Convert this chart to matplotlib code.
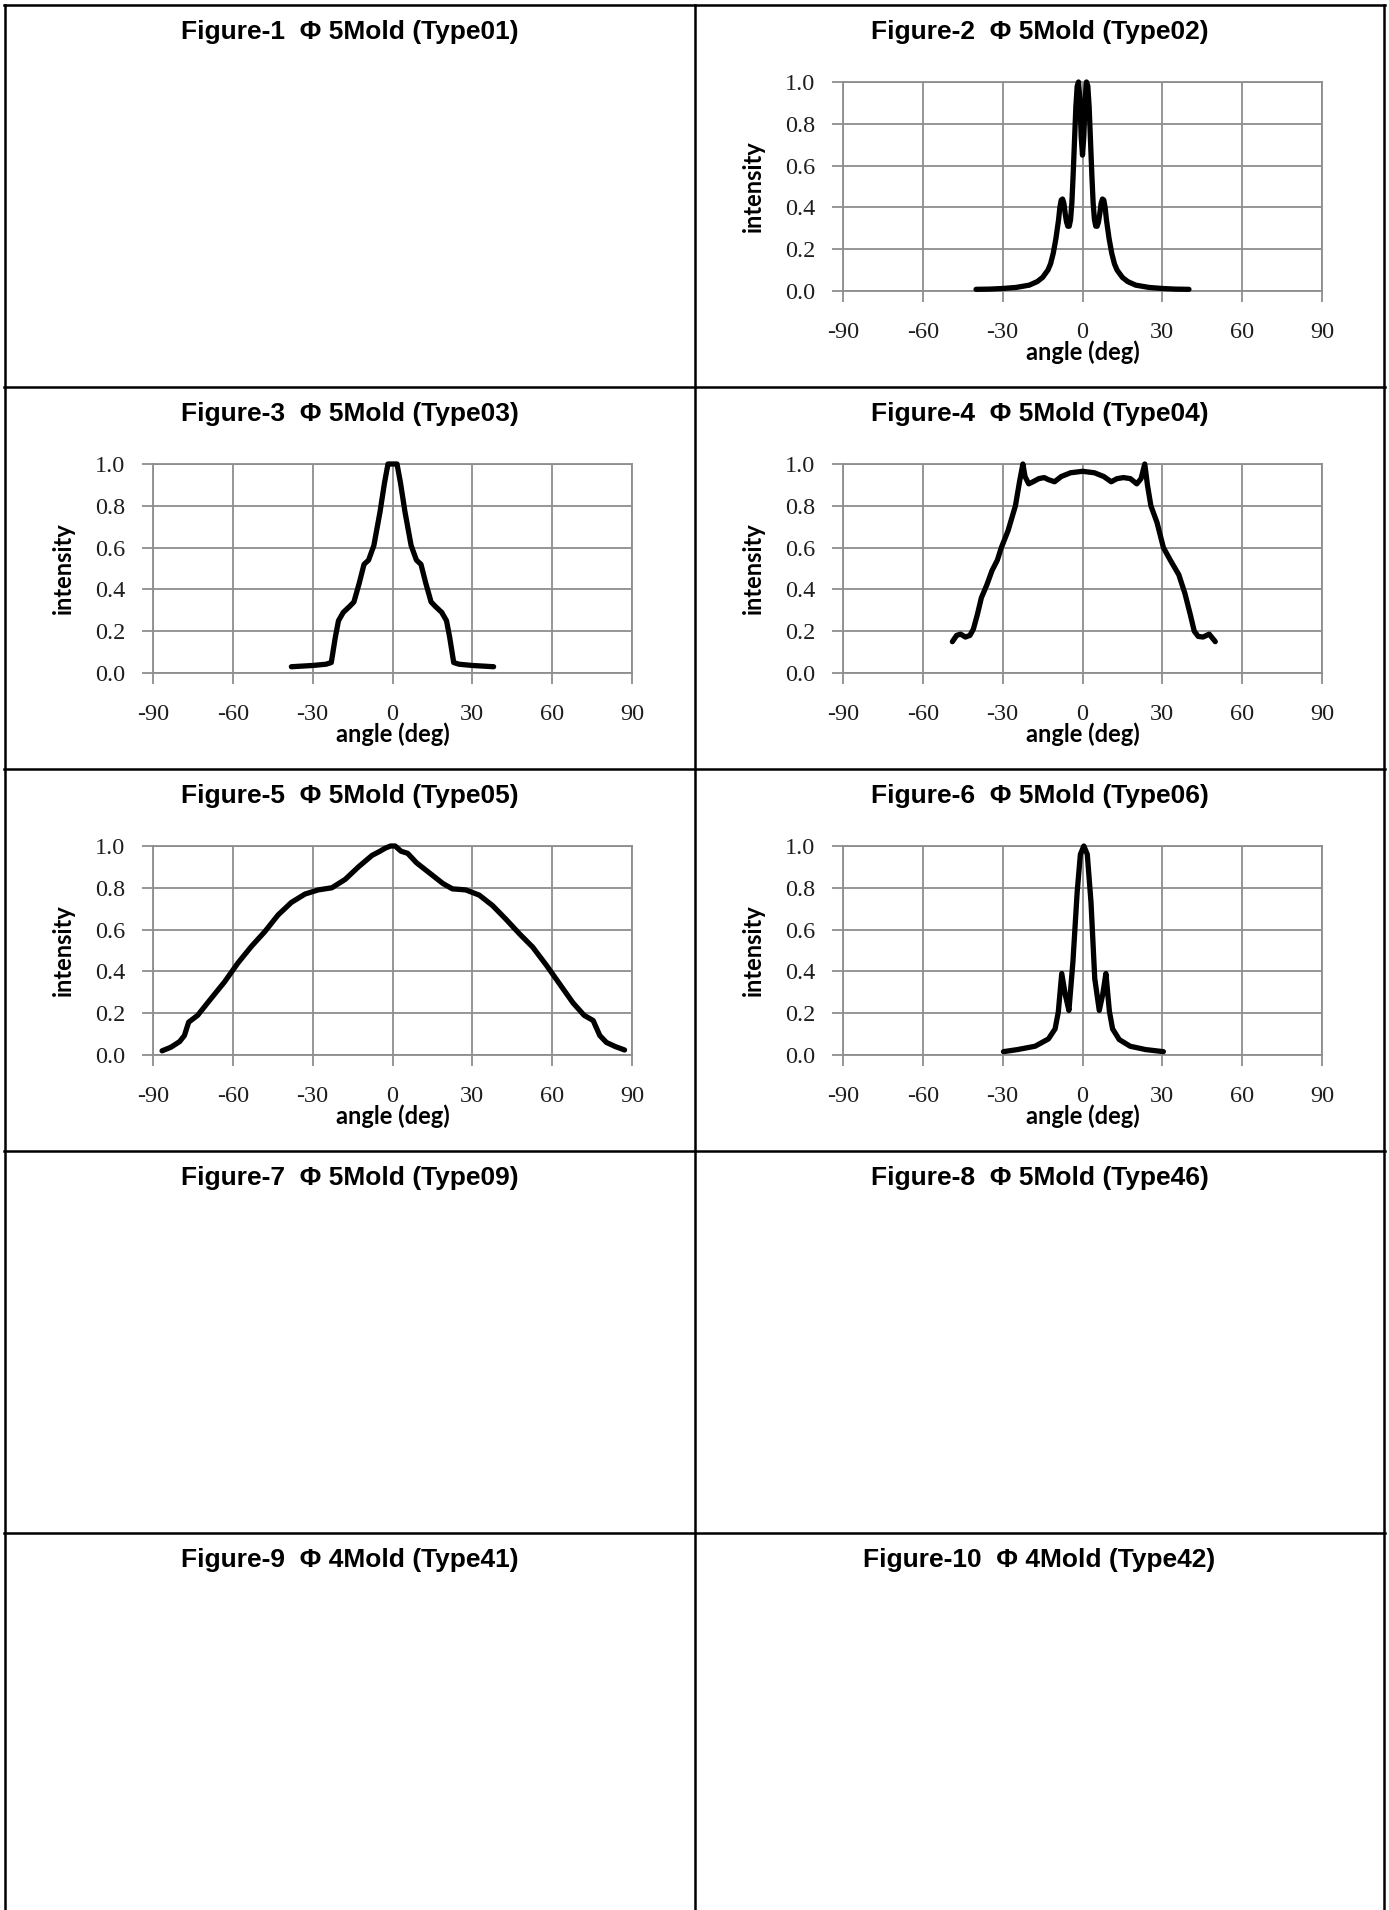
import matplotlib
matplotlib.use("Agg")
import matplotlib.pyplot as plt
from matplotlib.lines import Line2D
from matplotlib.ticker import FormatStrFormatter

plt.rcParams["axes.unicode_minus"] = False

# cell titles, row by row (left cell, right cell)
titles = [
    "Figure-1  Φ 5Mold (Type01)", "Figure-2  Φ 5Mold (Type02)",
    "Figure-3  Φ 5Mold (Type03)", "Figure-4  Φ 5Mold (Type04)",
    "Figure-5  Φ 5Mold (Type05)", "Figure-6  Φ 5Mold (Type06)",
    "Figure-7  Φ 5Mold (Type09)", "Figure-8  Φ 5Mold (Type46)",
    "Figure-9  Φ 4Mold (Type41)", "Figure-10  Φ 4Mold (Type42)",
]

# beam profiles: angle (deg) vs relative intensity
type02_angle = [-40, -35, -30, -25, -20, -17, -15, -13, -12, -11, -10, -9, -8.5, -8, -7.5,
                -7, -6.5, -6, -5.5, -5, -4.5, -4, -3.5, -3, -2.5, -2, -1.5, -1, -0.5, 0,
                0.5, 1, 1.5, 2, 2.5, 3, 3.5, 4, 4.5, 5, 5.5, 6, 6.5, 7, 7.5, 8, 8.5, 9,
                10, 11, 12, 13, 15, 17, 20, 25, 30, 35, 40]
type02_val = [0.008, 0.009, 0.012, 0.017, 0.028, 0.045, 0.065, 0.10, 0.13, 0.18, 0.25, 0.34, 0.40, 0.435, 0.44,
              0.42, 0.37, 0.33, 0.31, 0.31, 0.34, 0.42, 0.56, 0.72, 0.88, 0.98, 1.0, 0.92, 0.74, 0.65,
              0.74, 0.92, 1.0, 0.98, 0.88, 0.72, 0.56, 0.42, 0.34, 0.31, 0.31, 0.33, 0.37, 0.42, 0.44, 0.435, 0.40, 0.34,
              0.25, 0.18, 0.13, 0.10, 0.065, 0.045, 0.028, 0.017, 0.012, 0.009, 0.008]

type03_angle = [-38, -30, -25, -23, -21.5, -20.3, -18.5, -16, -14.5, -12.5, -10.7, -9, -7, -4.7, -3, -1.7, 0,
                1.7, 3, 4.7, 7, 9, 10.7, 12.5, 14.5, 16, 18.5, 20.3, 21.5, 23, 25, 30, 38]
type03_val = [0.030, 0.036, 0.042, 0.05, 0.17, 0.25, 0.29, 0.32, 0.34, 0.43, 0.52, 0.54, 0.61, 0.77, 0.91, 1.0, 1.0,
              1.0, 0.91, 0.77, 0.61, 0.54, 0.52, 0.43, 0.34, 0.32, 0.29, 0.25, 0.17, 0.05, 0.042, 0.036, 0.030]

type04_angle = [-48.9, -47.3, -45.8, -44, -42.3, -41, -39.5, -38, -36, -34, -32, -30.5, -28, -25.2, -23.6,
                -22.4, -21.6, -20.2, -18.6, -16.4, -14.4, -12.8, -10.5, -8, -4.5, 0,
                4.5, 8, 10.8, 13, 15.4, 18, 20.4, 22, 23.4, 24.4, 25.7, 28, 30.4, 33, 36.2, 38.5, 40.5,
                42, 43.5, 45.3, 47.6, 49.9]
type04_val = [0.15, 0.18, 0.186, 0.172, 0.18, 0.21, 0.28, 0.36, 0.42, 0.49, 0.54, 0.60, 0.68, 0.80, 0.92,
              1.0, 0.94, 0.905, 0.915, 0.93, 0.935, 0.925, 0.915, 0.94, 0.958, 0.965,
              0.958, 0.94, 0.915, 0.93, 0.935, 0.93, 0.905, 0.93, 1.0, 0.90, 0.80, 0.72, 0.60, 0.54, 0.47, 0.38, 0.28,
              0.20, 0.175, 0.172, 0.186, 0.15]

type05_angle = [-86.6, -83.3, -80, -78.2, -76.6, -73.2, -68.2, -63.1, -58.1, -53, -48, -43, -38, -32.9, -27.9,
                -22.8, -17.8, -12.8, -7.7, -4.7, -2.7, -0.7, 1, 3.2, 5.7, 9, 14, 19, 22.5, 27.5, 32.6,
                37.6, 42.6, 47.7, 52.7, 57.8, 62.8, 67.8, 72, 75.4, 77.9, 80.4, 83.8, 87.2]
type05_val = [0.02, 0.037, 0.064, 0.093, 0.157, 0.19, 0.27, 0.35, 0.44, 0.52, 0.59, 0.67, 0.73, 0.77, 0.79,
              0.80, 0.84, 0.90, 0.955, 0.975, 0.99, 1.0, 1.0, 0.975, 0.965, 0.92, 0.87, 0.82, 0.795, 0.79, 0.765,
              0.715, 0.65, 0.58, 0.516, 0.43, 0.34, 0.25, 0.19, 0.165, 0.093, 0.06, 0.04, 0.024]

type06_angle = [-29.7, -24.4, -17.8, -12.8, -10.3, -9.1, -7.8, -6.5, -5.1, -3.6, -2, -0.8, 0.5,
                1.8, 3.2, 4.6, 6.3, 7.6, 8.8, 10.1, 11.3, 13.8, 17.9, 23.7, 30.4]
type06_val = [0.016, 0.026, 0.042, 0.077, 0.125, 0.205, 0.39, 0.29, 0.213, 0.446, 0.78, 0.96, 1.0,
              0.96, 0.73, 0.366, 0.213, 0.29, 0.39, 0.21, 0.125, 0.074, 0.042, 0.026, 0.016]

# cell index -> profile
profiles = {
    1: (type02_angle, type02_val),
    2: (type03_angle, type03_val),
    3: (type04_angle, type04_val),
    4: (type05_angle, type05_val),
    5: (type06_angle, type06_val),
}

x_ticks = [-90, -60, -30, 0, 30, 60, 90]
y_ticks = [0.0, 0.2, 0.4, 0.6, 0.8, 1.0]

W, H = 1389, 1910
fig = plt.figure(figsize=(W / 100, H / 100), dpi=100, facecolor="white")

col_x = [5, 695, 1384]
row_y = [5, 387, 769, 1151, 1533, 1915]


def fx(px):
    return px / W


def fy(py):
    return 1 - py / H


# table frame
for x in col_x:
    fig.add_artist(Line2D([fx(x), fx(x)], [fy(row_y[0]), fy(row_y[-1])], color="black", lw=1.8))
for y in row_y[:-1]:
    fig.add_artist(Line2D([fx(col_x[0] - 1), fx(col_x[-1] + 1)], [fy(y), fy(y)], color="black", lw=1.8))

# cell titles
for i, t in enumerate(titles):
    r, c = divmod(i, 2)
    cx = (col_x[c] + col_x[c + 1]) / 2
    fig.text(fx(cx), fy(row_y[r] + 27), t, ha="center", va="center",
             fontsize=19, fontweight="bold", family="Liberation Sans")

grid_color = "#8e8e8e"
plot_w, plot_h = 479, 209

for i, (ang, val) in profiles.items():
    r, c = divmod(i, 2)
    left = col_x[c] + 148
    top = row_y[r] + 77
    ax = fig.add_axes([fx(left), fy(top + plot_h), plot_w / W, plot_h / H])
    ax.plot(ang, val, color="black", lw=3.8, solid_joinstyle="round",
            solid_capstyle="round", clip_on=False, zorder=3)
    ax.set_xlim(-90, 90)
    ax.set_ylim(0, 1.0)
    ax.set_xticks(x_ticks)
    ax.set_yticks(y_ticks)
    ax.yaxis.set_major_formatter(FormatStrFormatter("%.1f"))
    ax.grid(True, color=grid_color, lw=1.3)
    ax.set_axisbelow(True)
    for s in ax.spines.values():
        s.set_color(grid_color)
        s.set_linewidth(1.3)
    ax.tick_params(direction="out", length=8, width=1.3, color=grid_color,
                   labelsize=17.5, labelcolor="#1e1e1e")
    ax.tick_params(axis="x", pad=14)
    ax.tick_params(axis="y", pad=12)
    for lab in ax.get_xticklabels() + ax.get_yticklabels():
        lab.set_fontfamily("Liberation Serif")

    ax.set_xlabel("angle (deg)", fontsize=17, fontweight="bold", family="Lato")
    ax.xaxis.set_label_coords(0.5, -61 / plot_h)
    ax.xaxis.label.set_va("center")
    ax.set_ylabel("intensity", fontsize=17, fontweight="bold", family="Lato")
    ax.yaxis.set_label_coords(-90 / plot_w, 0.5)
    ax.yaxis.label.set_va("center")

fig.savefig("out.png", dpi=100, facecolor="white")
